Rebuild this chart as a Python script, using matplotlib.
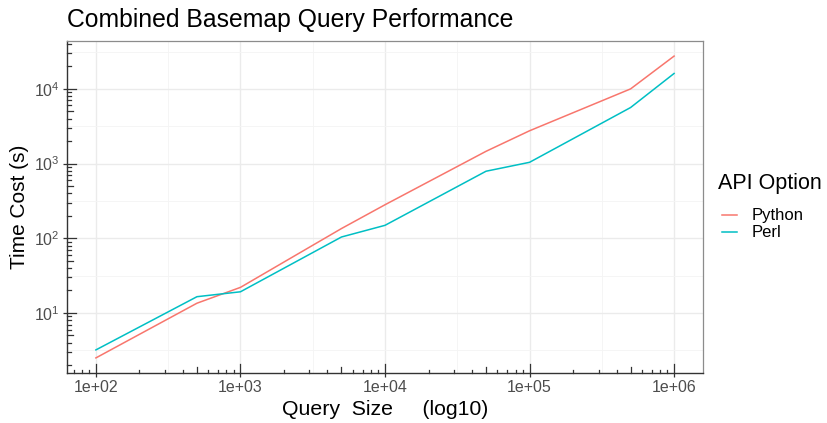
import numpy as np
import matplotlib
matplotlib.use("Agg")
import matplotlib.pyplot as plt
from matplotlib.lines import Line2D

# ---- data ----
query_size = [1e2, 5e2, 1e3, 5e3, 1e4, 5e4, 1e5, 5e5, 1e6]
python_cost = [2.5, 13.5, 22, 135, 281, 1460, 2750, 10000, 27500]
perl_cost = [3.2, 16.5, 19.2, 104, 149, 790, 1040, 5630, 16100]
series_names = ["Python", "Perl"]
x_tick_labels = ["1e+02", "1e+03", "1e+04", "1e+05", "1e+06"]
x_ticks = [1e2, 1e3, 1e4, 1e5, 1e6]
y_ticks = [1e1, 1e2, 1e3, 1e4]
y_tick_labels = [r"$10^{1}$", r"$10^{2}$", r"$10^{3}$", r"$10^{4}$"]

colors = ["#F8766D", "#00BFC4"]

plt.rcParams["font.family"] = ["Liberation Sans", "DejaVu Sans"]
plt.rcParams["mathtext.fontset"] = "custom"
plt.rcParams["mathtext.rm"] = "Liberation Sans"
plt.rcParams["mathtext.it"] = "Liberation Sans"

W, H = 827, 423
fig = plt.figure(figsize=(W / 100, H / 100), dpi=100)
L, R, T, B = 67, 703, 41, 373
ax = fig.add_axes([L / W, 1 - B / H, (R - L) / W, (B - T) / H])
pw, ph = R - L, B - T

ax.set_xscale("log")
ax.set_yscale("log")

# data-driven limits with ggplot-like 5% expansion (in log space)
lx = np.log10(query_size)
ly = np.log10(python_cost + perl_cost)
ex = 0.05 * (lx.max() - lx.min())
ey = 0.05 * (ly.max() - ly.min())
ax.set_xlim(10 ** (lx.min() - ex), 10 ** (lx.max() + ex))
ax.set_ylim(10 ** (ly.min() - ey), 10 ** (ly.max() + ey))

# grid: major at decades, minor at half decades
for v in x_ticks:
    ax.axvline(v, color="#ebebeb", lw=1.0, zorder=0)
for v in [10 ** (k + 0.5) for k in range(1, 6)]:
    ax.axvline(v, color="#f4f4f4", lw=0.6, zorder=0)
for v in y_ticks:
    ax.axhline(v, color="#ebebeb", lw=1.0, zorder=0)
for v in [10 ** (k + 0.5) for k in range(0, 5)]:
    ax.axhline(v, color="#f4f4f4", lw=0.6, zorder=0)

ax.plot(query_size, python_cost, color=colors[0], lw=1.1, label=series_names[0], zorder=3)
ax.plot(query_size, perl_cost, color=colors[1], lw=1.1, label=series_names[1], zorder=3)

# log ticks inside (annotation_logticks style)
xt = ax.get_xaxis_transform()
yt = ax.get_yaxis_transform()
for d in range(1, 7):
    for m in range(1, 10):
        v = m * 10 ** d
        ln = 9 if m == 1 else (6 if m == 5 else 3.5)
        if ax.get_xlim()[0] <= v <= ax.get_xlim()[1]:
            ax.plot([v, v], [0, ln / ph], transform=xt, color="#333333", lw=0.9, clip_on=False, zorder=4)
for d in range(0, 5):
    for m in range(1, 10):
        v = m * 10 ** d
        ln = 9 if m == 1 else (6 if m == 5 else 3.5)
        if ax.get_ylim()[0] <= v <= ax.get_ylim()[1]:
            ax.plot([0, ln / pw], [v, v], transform=yt, color="#333333", lw=0.9, clip_on=False, zorder=4)

ax.set_xticks(x_ticks)
ax.set_xticklabels(x_tick_labels)
ax.set_yticks(y_ticks)
ax.set_yticklabels(y_tick_labels)
ax.minorticks_off()
ax.tick_params(axis="both", which="major", direction="out", length=3, width=0.9,
               color="#333333", labelcolor="#4d4d4d", labelsize=11.5, pad=2)

for s in ["top", "right"]:
    ax.spines[s].set_color("#8c8c8c")
    ax.spines[s].set_linewidth(0.9)
for s in ["left", "bottom"]:
    ax.spines[s].set_color("#333333")
    ax.spines[s].set_linewidth(1.0)

fig.text(L / W, 1 - 27 / H, "Combined Basemap Query Performance", fontsize=17.8,
         ha="left", va="baseline", color="black")
fig.text(385 / W, 1 - 415 / H, "Query  Size     (log10)", fontsize=15.3,
         ha="center", va="baseline", color="black")
fig.text(20 / W, 1 - 207 / H, "Time Cost (s)", fontsize=15, rotation=90,
         ha="center", va="center", color="black")

# legend
fig.text(718 / W, 1 - 189 / H, "API Option", fontsize=15.5, ha="left", va="baseline", color="black")
for i, (name, c) in enumerate(zip(series_names, colors)):
    yc = 215 + 17 * i
    fig.add_artist(Line2D([722 / W, 737 / W], [1 - yc / H, 1 - yc / H], color=c, lw=1.1))
    fig.text(752 / W, 1 - (yc + 5) / H, name, fontsize=12, ha="left", va="baseline", color="black")

fig.savefig("out.png", dpi=100)
